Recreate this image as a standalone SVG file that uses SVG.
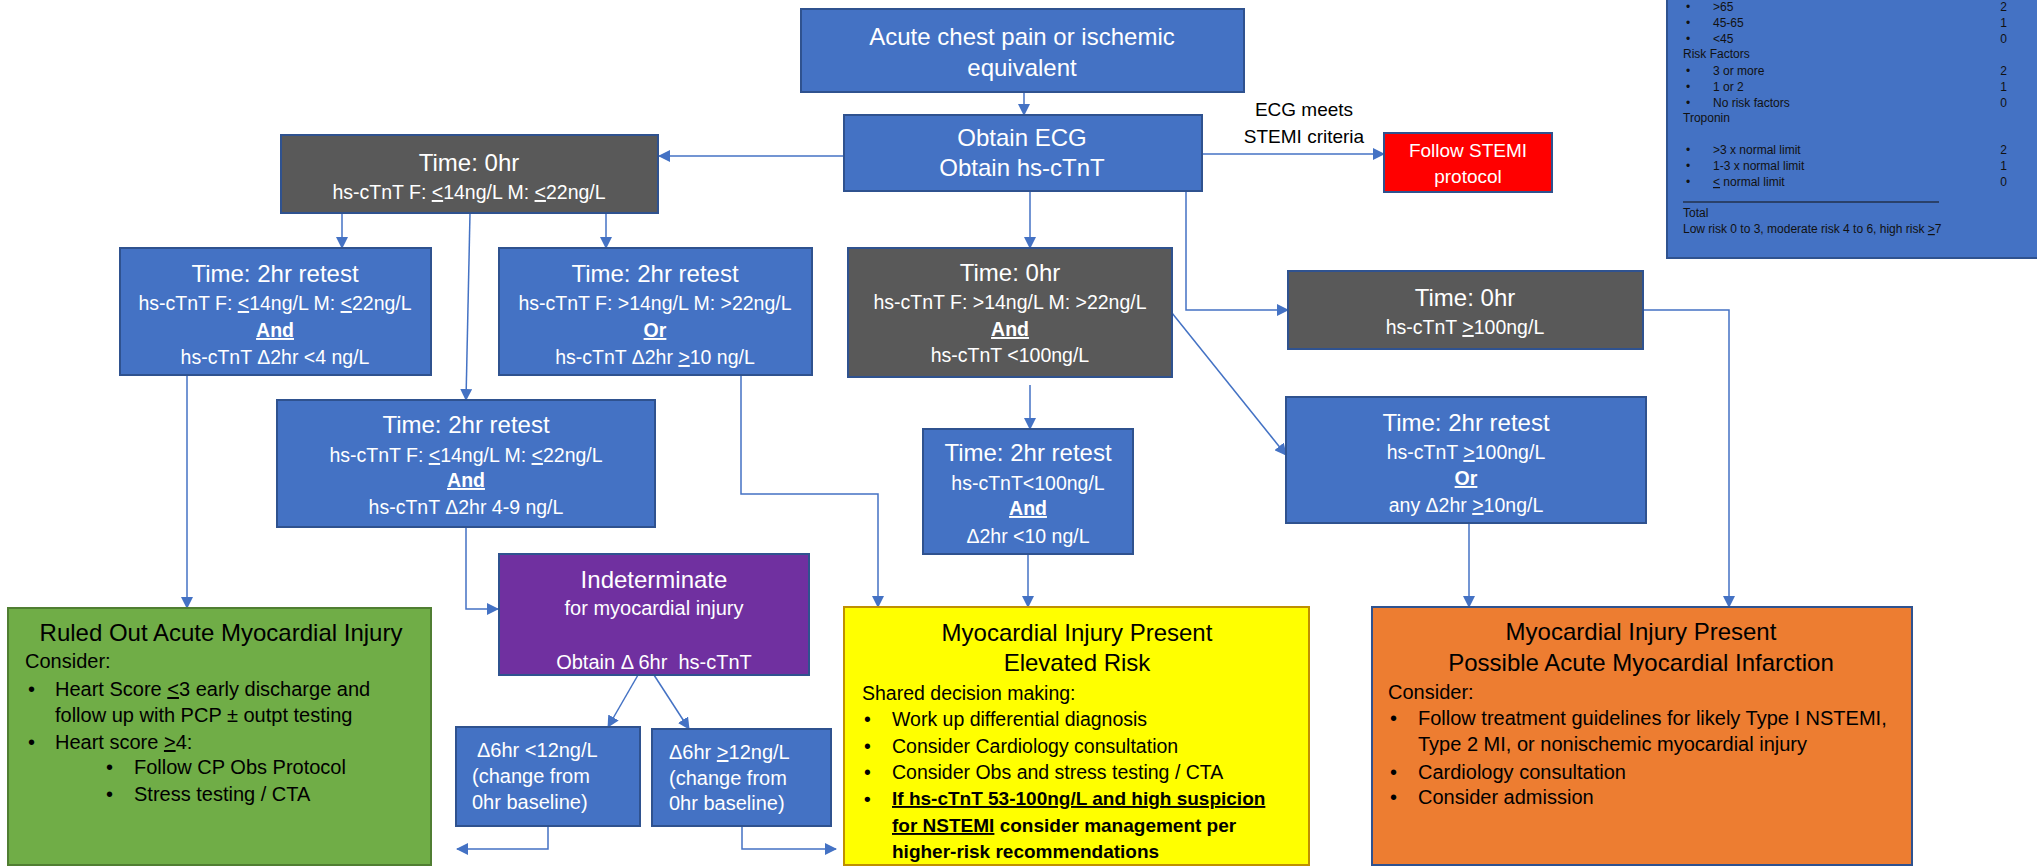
<svg xmlns="http://www.w3.org/2000/svg" width="2037" height="867" viewBox="0 0 2037 867">
<defs>
<marker id="ah" markerUnits="userSpaceOnUse" markerWidth="12" markerHeight="12" refX="11" refY="6" orient="auto">
<path d="M0,0 L12,6 L0,12 z" fill="#4472C4"/>
</marker>
</defs>
<style>
text{font-family:"Liberation Sans",Arial,sans-serif;}
.blue{fill:#4472C4;stroke:#2F528F;stroke-width:2;}
.gray{fill:#595959;stroke:#2F528F;stroke-width:2;}
.purple{fill:#7030A0;stroke:#2F528F;stroke-width:2;}
.red{fill:#FF0000;stroke:#2F528F;stroke-width:2;}
.green{fill:#70AD47;stroke:#507E32;stroke-width:2;}
.yellow{fill:#FFFF00;stroke:#BF9000;stroke-width:2;}
.orange{fill:#ED7D31;stroke:#2F528F;stroke-width:2;}
.w{fill:#FFFFFF;}
.k{fill:#000000;}
.c{text-anchor:middle;}
.t24{font-size:24px;}
.t19{font-size:19.5px;}
.t20{font-size:20px;}
.h{font-size:12px;fill:#111111;}
.b{font-weight:bold;}
.u{text-decoration:underline;}
.conn{fill:none;stroke:#4472C4;stroke-width:1.5;}
</style>

<g id="heart-score">
<rect x="1667" y="-5" width="380" height="263" class="blue"/>
<text class="h" x="1686" y="11">•</text><text class="h" x="1713" y="11">&gt;65</text><text class="h" x="2007" y="11" text-anchor="end">2</text>
<text class="h" x="1686" y="27">•</text><text class="h" x="1713" y="27">45-65</text><text class="h" x="2007" y="27" text-anchor="end">1</text>
<text class="h" x="1686" y="43">•</text><text class="h" x="1713" y="43">&lt;45</text><text class="h" x="2007" y="43" text-anchor="end">0</text>
<text class="h" x="1683" y="58">Risk Factors</text>
<text class="h" x="1686" y="75">•</text><text class="h" x="1713" y="75">3 or more</text><text class="h" x="2007" y="75" text-anchor="end">2</text>
<text class="h" x="1686" y="91">•</text><text class="h" x="1713" y="91">1 or 2</text><text class="h" x="2007" y="91" text-anchor="end">1</text>
<text class="h" x="1686" y="107">•</text><text class="h" x="1713" y="107">No risk factors</text><text class="h" x="2007" y="107" text-anchor="end">0</text>
<text class="h" x="1683" y="122">Troponin</text>
<text class="h" x="1686" y="154">•</text><text class="h" x="1713" y="154">&gt;3 x normal limit</text><text class="h" x="2007" y="154" text-anchor="end">2</text>
<text class="h" x="1686" y="170">•</text><text class="h" x="1713" y="170">1-3 x normal limit</text><text class="h" x="2007" y="170" text-anchor="end">1</text>
<text class="h" x="1686" y="186">•</text><text class="h" x="1713" y="186"><tspan class="u">&lt;</tspan> normal limit</text><text class="h" x="2007" y="186" text-anchor="end">0</text>
<line x1="1683" y1="202" x2="1939" y2="202" stroke="#111111" stroke-width="1"/>
<text class="h" x="1683" y="217">Total</text>
<text class="h" x="1683" y="233">Low risk 0 to 3, moderate risk 4 to 6, high risk <tspan class="u">&gt;</tspan>7</text>
</g>

<g id="connectors">
<line class="conn" x1="1024" y1="92" x2="1024" y2="115" marker-end="url(#ah)"/>
<line class="conn" x1="844" y1="156" x2="659" y2="156" marker-end="url(#ah)"/>
<line class="conn" x1="1202" y1="154" x2="1384" y2="154" marker-end="url(#ah)"/>
<line class="conn" x1="1030" y1="191" x2="1030" y2="248" marker-end="url(#ah)"/>
<polyline class="conn" points="1186,191 1186,310 1288,310" marker-end="url(#ah)"/>
<line class="conn" x1="342" y1="213" x2="342" y2="248" marker-end="url(#ah)"/>
<line class="conn" x1="606" y1="213" x2="606" y2="248" marker-end="url(#ah)"/>
<line class="conn" x1="470" y1="213" x2="466" y2="400" marker-end="url(#ah)"/>
<line class="conn" x1="187" y1="375" x2="187" y2="608" marker-end="url(#ah)"/>
<polyline class="conn" points="466,527 466,609 498,609" marker-end="url(#ah)"/>
<polyline class="conn" points="741,375 741,494 878,494 878,607" marker-end="url(#ah)"/>
<line class="conn" x1="1030" y1="385" x2="1030" y2="429" marker-end="url(#ah)"/>
<line class="conn" x1="1172" y1="313" x2="1286" y2="455" marker-end="url(#ah)"/>
<line class="conn" x1="1028" y1="554" x2="1028" y2="607" marker-end="url(#ah)"/>
<polyline class="conn" points="1643,310 1729,310 1729,607" marker-end="url(#ah)"/>
<line class="conn" x1="1469" y1="523" x2="1469" y2="607" marker-end="url(#ah)"/>
<line class="conn" x1="638" y1="675" x2="608" y2="727" marker-end="url(#ah)"/>
<line class="conn" x1="654" y1="675" x2="689" y2="729" marker-end="url(#ah)"/>
<polyline class="conn" points="548,826 548,849 457,849" marker-end="url(#ah)"/>
<polyline class="conn" points="742,826 742,849 836,849" marker-end="url(#ah)"/>
<text class="k c" x="1304" y="116" style="font-size:19px">ECG meets</text>
<text class="k c" x="1304" y="143" style="font-size:19px">STEMI criteria</text>
</g>

<g id="start">
<rect x="801" y="9" width="443" height="83" class="blue"/>
<text class="w c t24" x="1022" y="45">Acute chest pain or ischemic</text>
<text class="w c t24" x="1022" y="76">equivalent</text>
</g>

<g id="ecg">
<rect x="844" y="115" width="358" height="76" class="blue"/>
<text class="w c t24" x="1022" y="146">Obtain ECG</text>
<text class="w c t24" x="1022" y="176">Obtain hs-cTnT</text>
</g>

<g id="stemi">
<rect x="1384" y="133" width="168" height="59" class="red"/>
<text class="w c" x="1468" y="157" style="font-size:19px">Follow STEMI</text>
<text class="w c" x="1468" y="183" style="font-size:19px">protocol</text>
</g>

<g id="t0-low">
<rect x="281" y="135" width="377" height="78" class="gray"/>
<text class="w c t24" x="469" y="171">Time: 0hr</text>
<text class="w c t19" x="469" y="199">hs-cTnT F: <tspan class="u">&lt;</tspan>14ng/L M: <tspan class="u">&lt;</tspan>22ng/L</text>
</g>

<g id="t2-low">
<rect x="120" y="248" width="311" height="127" class="blue"/>
<text class="w c t24" x="275" y="282">Time: 2hr retest</text>
<text class="w c t19" x="275" y="310">hs-cTnT F: <tspan class="u">&lt;</tspan>14ng/L M: <tspan class="u">&lt;</tspan>22ng/L</text>
<text class="w c t19 b u" x="275" y="337">And</text>
<text class="w c t19" x="275" y="364">hs-cTnT Δ2hr &lt;4 ng/L</text>
</g>

<g id="t2-rise">
<rect x="499" y="248" width="313" height="127" class="blue"/>
<text class="w c t24" x="655" y="282">Time: 2hr retest</text>
<text class="w c t19" x="655" y="310">hs-cTnT F: &gt;14ng/L M: &gt;22ng/L</text>
<text class="w c t19 b u" x="655" y="337">Or</text>
<text class="w c t19" x="655" y="364">hs-cTnT Δ2hr <tspan class="u">&gt;</tspan>10 ng/L</text>
</g>

<g id="t2-mid">
<rect x="277" y="400" width="378" height="127" class="blue"/>
<text class="w c t24" x="466" y="433">Time: 2hr retest</text>
<text class="w c t19" x="466" y="462">hs-cTnT F: <tspan class="u">&lt;</tspan>14ng/L M: <tspan class="u">&lt;</tspan>22ng/L</text>
<text class="w c t19 b u" x="466" y="487">And</text>
<text class="w c t19" x="466" y="514">hs-cTnT Δ2hr 4-9 ng/L</text>
</g>

<g id="indeterminate">
<rect x="499" y="554" width="310" height="121" class="purple"/>
<text class="w c t24" x="654" y="588">Indeterminate</text>
<text class="w c t20" x="654" y="615">for myocardial injury</text>
<text class="w c t20" x="654" y="669" xml:space="preserve">Obtain Δ 6hr  hs-cTnT</text>
</g>

<g id="d6-low">
<rect x="456" y="727" width="184" height="99" class="blue"/>
<text class="w t20" x="477" y="757">Δ6hr &lt;12ng/L</text>
<text class="w t20" x="472" y="783">(change from</text>
<text class="w t20" x="472" y="809">0hr baseline)</text>
</g>

<g id="d6-high">
<rect x="652" y="729" width="179" height="97" class="blue"/>
<text class="w t20" x="669" y="759">Δ6hr <tspan class="u">&gt;</tspan>12ng/L</text>
<text class="w t20" x="669" y="785">(change from</text>
<text class="w t20" x="669" y="810">0hr baseline)</text>
</g>

<g id="t0-mid">
<rect x="848" y="248" width="324" height="129" class="gray"/>
<text class="w c t24" x="1010" y="281">Time: 0hr</text>
<text class="w c t19" x="1010" y="309">hs-cTnT F: &gt;14ng/L M: &gt;22ng/L</text>
<text class="w c t19 b u" x="1010" y="336">And</text>
<text class="w c t19" x="1010" y="362">hs-cTnT &lt;100ng/L</text>
</g>

<g id="t2-center">
<rect x="923" y="429" width="210" height="125" class="blue"/>
<text class="w c t24" x="1028" y="461">Time: 2hr retest</text>
<text class="w c t19" x="1028" y="490">hs-cTnT&lt;100ng/L</text>
<text class="w c t19 b u" x="1028" y="515">And</text>
<text class="w c t19" x="1028" y="543">Δ2hr &lt;10 ng/L</text>
</g>

<g id="t0-high">
<rect x="1288" y="271" width="355" height="78" class="gray"/>
<text class="w c t24" x="1465" y="306">Time: 0hr</text>
<text class="w c t19" x="1465" y="334">hs-cTnT <tspan class="u">&gt;</tspan>100ng/L</text>
</g>

<g id="t2-high">
<rect x="1286" y="397" width="360" height="126" class="blue"/>
<text class="w c t24" x="1466" y="431">Time: 2hr retest</text>
<text class="w c t19" x="1466" y="459">hs-cTnT <tspan class="u">&gt;</tspan>100ng/L</text>
<text class="w c t19 b u" x="1466" y="485">Or</text>
<text class="w c t19" x="1466" y="512">any Δ2hr <tspan class="u">&gt;</tspan>10ng/L</text>
</g>

<g id="ruled-out">
<rect x="8" y="608" width="423" height="257" class="green"/>
<text class="k c t24" x="221" y="641">Ruled Out Acute Myocardial Injury</text>
<text class="k t20" x="25" y="668">Consider:</text>
<text class="k t20" x="28" y="696">•</text><text class="k t20" x="55" y="696">Heart Score <tspan class="u">&lt;</tspan>3 early discharge and</text>
<text class="k t20" x="55" y="722">follow up with PCP ± outpt testing</text>
<text class="k t20" x="28" y="749">•</text><text class="k t20" x="55" y="749">Heart score <tspan class="u">&gt;</tspan>4:</text>
<text class="k t20" x="106" y="774">•</text><text class="k t20" x="134" y="774">Follow CP Obs Protocol</text>
<text class="k t20" x="106" y="801">•</text><text class="k t20" x="134" y="801">Stress testing / CTA</text>
</g>

<g id="elevated">
<rect x="844" y="607" width="465" height="258" class="yellow"/>
<text class="k c t24" x="1077" y="641">Myocardial Injury Present</text>
<text class="k c t24" x="1077" y="671">Elevated Risk</text>
<text class="k t19" x="862" y="700">Shared decision making:</text>
<text class="k t19" x="864" y="726">•</text><text class="k t19" x="892" y="726">Work up differential diagnosis</text>
<text class="k t19" x="864" y="753">•</text><text class="k t19" x="892" y="753">Consider Cardiology consultation</text>
<text class="k t19" x="864" y="779">•</text><text class="k t19" x="892" y="779">Consider Obs and stress testing / CTA</text>
<text class="k b" x="864" y="805" style="font-size:19px">•</text><text class="k b u" x="892" y="805" style="font-size:19px">If hs-cTnT 53-100ng/L and high suspicion</text>
<text class="k b" x="892" y="832" style="font-size:19px"><tspan class="u">for NSTEMI</tspan> consider management per</text>
<text class="k b" x="892" y="858" style="font-size:19px">higher-risk recommendations</text>
</g>

<g id="possible-mi">
<rect x="1372" y="607" width="540" height="258" class="orange"/>
<text class="k c t24" x="1641" y="640">Myocardial Injury Present</text>
<text class="k c t24" x="1641" y="671">Possible Acute Myocardial Infarction</text>
<text class="k t20" x="1388" y="699">Consider:</text>
<text class="k t20" x="1390" y="725">•</text><text class="k t20" x="1418" y="725">Follow treatment guidelines for likely Type I NSTEMI,</text>
<text class="k t20" x="1418" y="751">Type 2 MI, or nonischemic myocardial injury</text>
<text class="k t20" x="1390" y="779">•</text><text class="k t20" x="1418" y="779">Cardiology consultation</text>
<text class="k t20" x="1390" y="804">•</text><text class="k t20" x="1418" y="804">Consider admission</text>
</g>
</svg>
